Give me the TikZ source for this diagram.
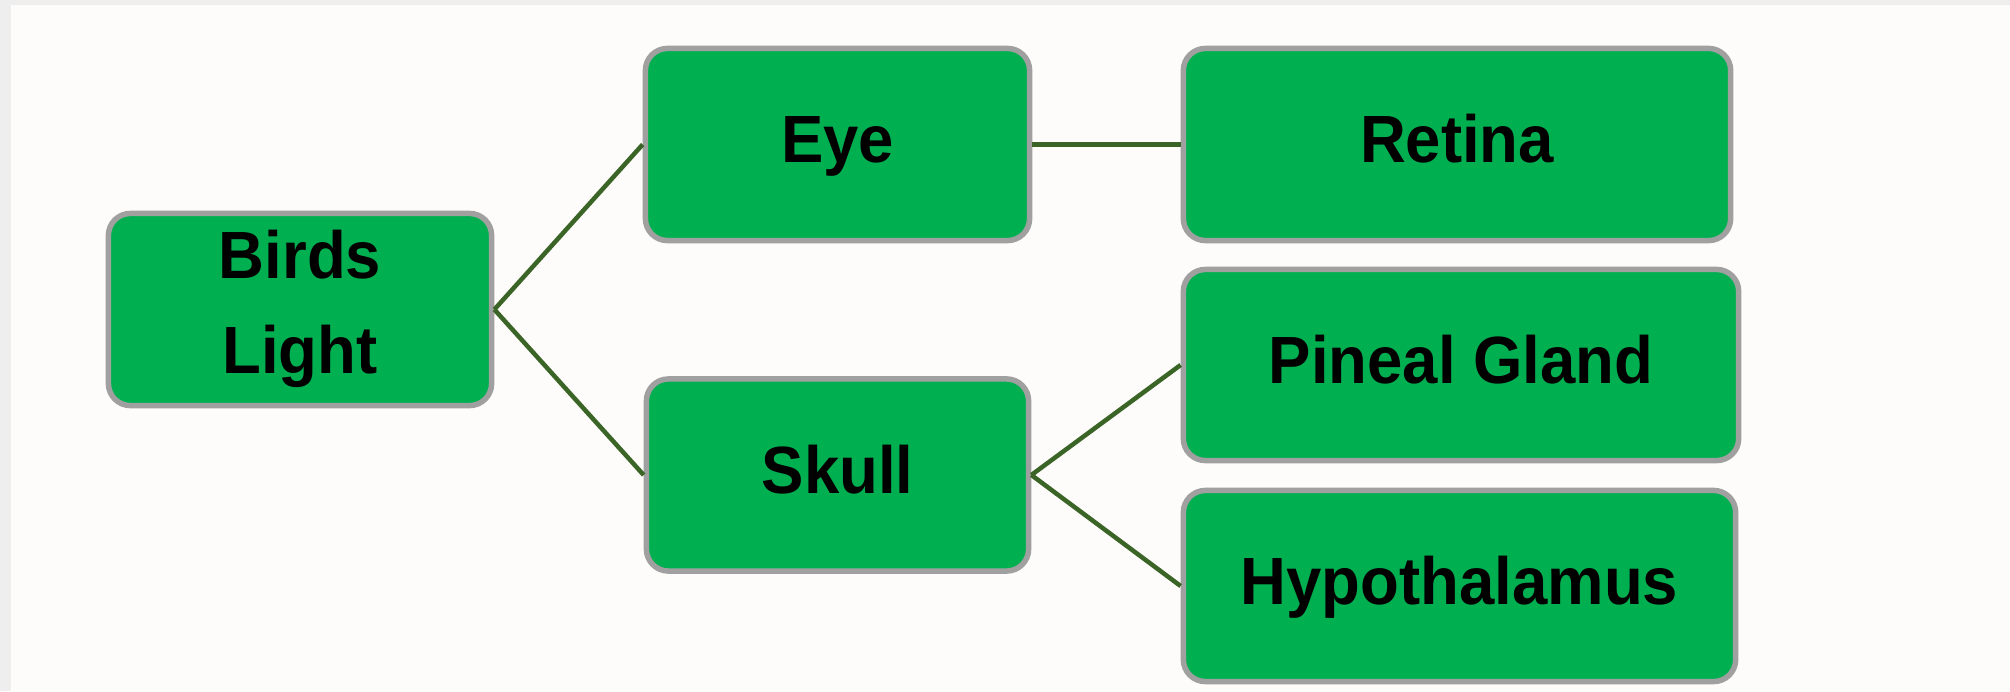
\documentclass[tikz,border=0pt]{standalone}
\usepackage{fontspec}
\newfontfamily\boxfont{Liberation Sans}[FakeStretch=0.95]
\definecolor{boxgreen}{HTML}{00AF50}
\definecolor{boxedge}{HTML}{A0A0A0}
\definecolor{linkgreen}{HTML}{3B6427}
\definecolor{paper}{HTML}{FDFCFA}
\definecolor{frame}{HTML}{EEEEEE}
\begin{document}
\begin{tikzpicture}[x=0.01cm,y=-0.01cm,
  boxfont/.style={font=\boxfont\bfseries\fontsize{19}{27}\selectfont},
  box/.style={draw=boxedge, line width=0.055cm, fill=boxgreen,
    rounded corners=0.22cm, minimum height=1.92cm, inner sep=0pt,
    boxfont, text height=0.48cm, text depth=0.12cm},
  boxlabel/.style={boxfont, align=center, inner sep=0pt},
  link/.style={draw=linkgreen, line width=0.045cm}]

% page background with its thin grey frame on the left and top
\fill[frame] (0,0) rectangle (2010,691);
\fill[paper] (11,5) rectangle (2010,691);
\useasboundingbox (0,0) rectangle (2010,691);

% boxes
\node[box, minimum width=3.83cm] (birds) at (300,309.5) {};
\node[boxlabel, yshift=0.01cm] (birdstext) at (birds.center) {Birds\\Light};
\node[box, minimum width=3.84cm] (eye) at (837.5,144.5) {Eye};
\node[box, minimum width=3.82cm] (skull) at (837.5,475) {Skull};
\node[box, minimum width=5.47cm] (retina) at (1457,144.5) {Retina};
\node[box, minimum width=5.55cm, minimum height=1.91cm] (pineal) at (1461,365) {Pineal Gland};
\node[box, minimum width=5.52cm, minimum height=1.91cm] (hypo) at (1459.5,586) {Hypothalamus};

% connectors
\draw[link] (birds.east) -- (eye.west);
\draw[link] (birds.east) -- (skull.west);
\draw[link] (eye.east) -- (retina.west);
\draw[link] (skull.east) -- (pineal.west);
\draw[link] (skull.east) -- (hypo.west);
\end{tikzpicture}
\end{document}
